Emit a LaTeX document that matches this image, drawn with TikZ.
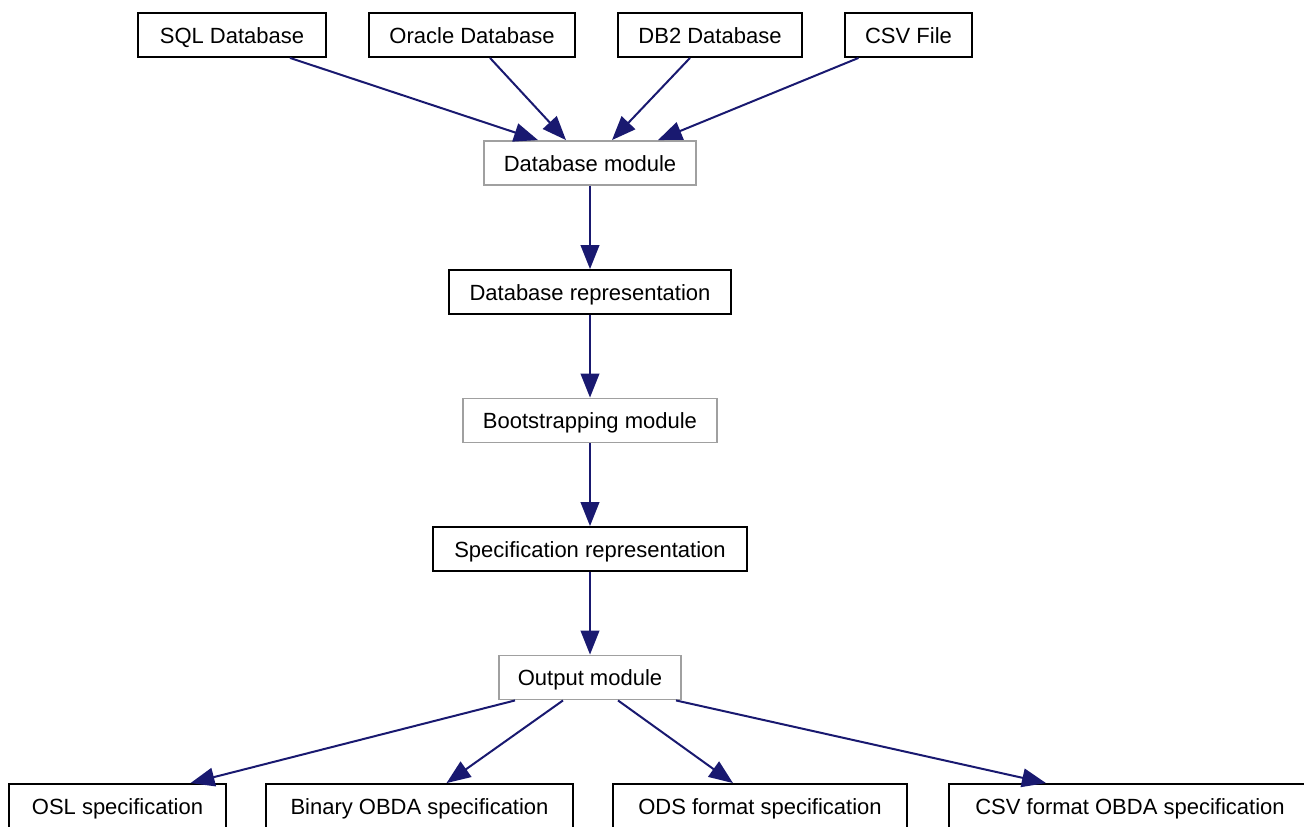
\documentclass[tikz,border=0pt]{standalone}
\usepackage{fontspec}
\setmainfont{Liberation Sans}
\usetikzlibrary{arrows.meta,calc}
\definecolor{edgeblue}{RGB}{25,25,112}
\definecolor{modgray}{RGB}{160,160,160}
\begin{document}
\begin{tikzpicture}[x=0.75pt,y=-0.75pt,
  box/.style={draw=black,line width=1.4pt,rectangle,minimum height=33pt,inner sep=0pt,
    text height=13pt,text depth=1pt,font=\fontsize{16.5}{20}\selectfont},
  modbox/.style={box,draw=modgray},
  edge/.style={draw=edgeblue,line width=1.5pt,-{Triangle[length=18pt,width=14pt]}}]
\useasboundingbox (0,0) rectangle (1304,826);
\node[box,minimum width=141pt] (sql) at (232,35) {SQL Database};
\node[box,minimum width=154.5pt] (ora) at (472,35) {Oracle Database};
\node[box,minimum width=138pt] (db2) at (710,35) {DB2 Database};
\node[box,minimum width=95pt] (csv) at (908.5,35) {CSV File};
\node[modbox,minimum width=159pt] (dbm) at (590,163) {Database module};
\node[box,minimum width=212pt] (dbr) at (590,292) {Database representation};
\node[modbox,minimum width=190.5pt] (bsm) at (590,420.5) {Bootstrapping module};
\node[box,minimum width=235.5pt] (spr) at (590,549) {Specification representation};
\node[modbox,minimum width=137pt] (out) at (590,677.5) {Output module};
\node[box,minimum width=162.5pt] (osl) at (117.5,806) {OSL specification};
\node[box,minimum width=230pt] (bin) at (419.5,806) {Binary OBDA specification};
\node[box,minimum width=220.5pt] (ods) at (760,806) {ODS format specification};
\node[box,minimum width=271pt] (cso) at (1130,806) {CSV format OBDA specification};
\draw[edge] ($(sql.south)+(58,0)$) -- ($(dbm.north)+(-52,0)$);
\draw[edge] ($(ora.south)+(18,0)$) -- ($(dbm.north)+(-24,0)$);
\draw[edge] ($(db2.south)+(-20,0)$) -- ($(dbm.north)+(22,0)$);
\draw[edge] ($(csv.south)+(-50,0)$) -- ($(dbm.north)+(68,0)$);
\draw[edge] (dbm) -- (dbr);
\draw[edge] (dbr) -- (bsm);
\draw[edge] (bsm) -- (spr);
\draw[edge] (spr) -- (out);
\draw[edge] ($(out.south)+(-75,0)$) -- ($(osl.north)+(73,0)$);
\draw[edge] ($(out.south)+(-27,0)$) -- ($(bin.north)+(27,0)$);
\draw[edge] ($(out.south)+(28,0)$) -- ($(ods.north)+(-27,0)$);
\draw[edge] ($(out.south)+(86,0)$) -- ($(cso.north)+(-84,0)$);
\end{tikzpicture}
\end{document}
